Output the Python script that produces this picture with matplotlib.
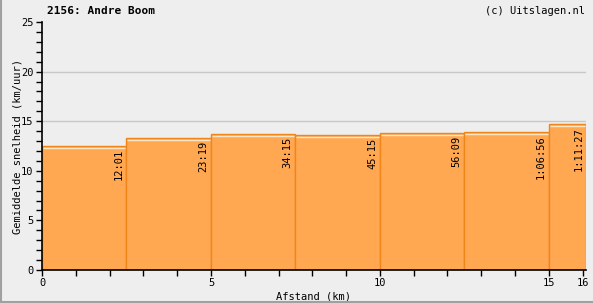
import numpy as np
import matplotlib
matplotlib.use('agg')
from matplotlib import pyplot as plt
from matplotlib.ticker import MultipleLocator, FixedLocator

# split data
dist_start = [0, 2.5, 5, 7.5, 10, 12.5, 15]
dist_width = [2.5, 2.5, 2.5, 2.5, 2.5, 2.5, 1.1]
speeds = [12.5, 13.3, 13.7, 13.65, 13.8, 13.9, 14.7]
split_times = ['12:01', '23:19', '34:15', '45:15', '56:09', '1:06:56', '1:11:27']
x_labels = [0, 5, 10, 15, 16]
grid_levels = [5, 10, 15, 20]

BG = '#eeeeee'
FILL = '#ffa851'
EDGE = '#f0861a'
plt.rcParams['font.family'] = 'DejaVu Sans Mono'
plt.rcParams['font.size'] = 7.5

fig = plt.figure(figsize=(5.93, 3.03), dpi=100, facecolor=BG)
ax = fig.add_axes([42/593, 1 - 270/303, (586 - 42)/593, (270 - 22)/303])
ax.set_facecolor(BG)

for g in grid_levels:
    ax.axhline(g, color='#c8c8c8', lw=1, zorder=0)

ax.bar(dist_start, speeds, width=dist_width, align='edge', color=FILL,
       edgecolor=EDGE, linewidth=1, zorder=2)
# light highlight line just under each bar top
for x0, w, s in zip(dist_start, dist_width, speeds):
    ax.plot([x0 + 0.03, x0 + w - 0.03], [s - 0.2, s - 0.2], color='#ffe6c4',
            lw=1, zorder=3, solid_capstyle='butt')

for x0, w, s, t in zip(dist_start, dist_width, speeds, split_times):
    ax.text(x0 + w - 0.08, s - 0.3, t, rotation=90, ha='right', va='top',
            fontsize=7.5, zorder=4)

ax.set_xlim(0, 16.1)
ax.set_ylim(0, 25)
ax.yaxis.set_major_locator(MultipleLocator(5))
ax.yaxis.set_minor_locator(MultipleLocator(1))
ax.xaxis.set_major_locator(FixedLocator(x_labels))
ax.xaxis.set_minor_locator(MultipleLocator(1))
ax.tick_params(which='both', length=4, width=1, color='black', pad=2)

for side in ['top', 'right']:
    ax.spines[side].set_visible(False)
for side in ['left', 'bottom']:
    ax.spines[side].set_linewidth(1.2)
    ax.spines[side].set_zorder(5)

ax.set_xlabel('Afstand (km)', labelpad=2)
ax.set_ylabel('Gemiddelde snelheid (km/uur)')
ax.yaxis.set_label_coords(-0.036, 0.5)

fig.text(47/593, 1 - 11/303, '2156: Andre Boom', fontweight='bold',
         ha='left', va='center', fontsize=8)
fig.text(585/593, 1 - 11/303, '(c) Uitslagen.nl', ha='right', va='center',
         fontsize=7.5)

# image frame on left and bottom
fig.add_artist(plt.Line2D([1/593, 1/593], [0, 1], color='#a0a0a0', lw=1.5))
fig.add_artist(plt.Line2D([0, 1], [1/303, 1/303], color='#a0a0a0', lw=1.5))

fig.savefig('out.png', dpi=100, facecolor=BG)
